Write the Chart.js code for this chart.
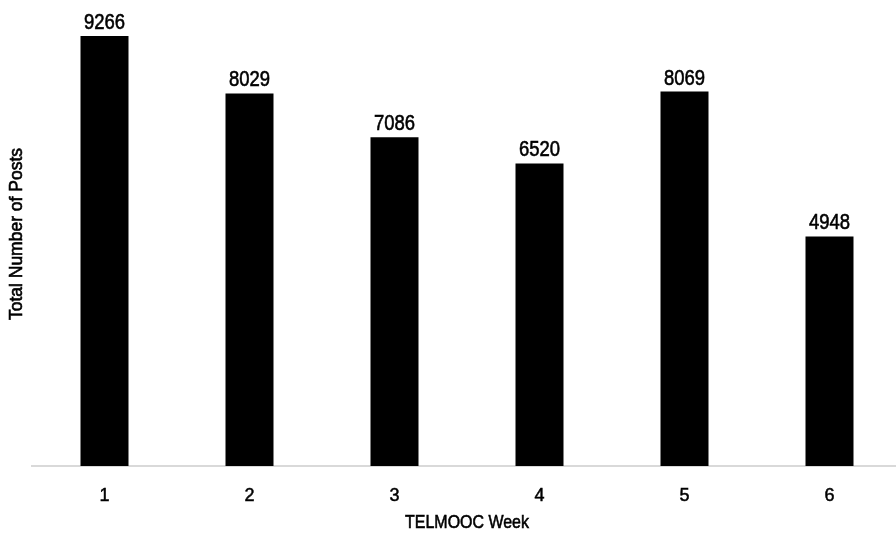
<!DOCTYPE html>
<html>
<head>
<meta charset="utf-8">
<script src="https://cdn.jsdelivr.net/npm/chart.js@4"></script>
<style>
  html, body { margin: 0; padding: 0; background: #fff; overflow: hidden; }
  #wrap { width: 902px; height: 533px; }
</style>
</head>
<body>
<div id="wrap"><canvas id="barChart"></canvas></div>
<script>
var weeks = ['1', '2', '3', '4', '5', '6'];
var posts = [9266, 8029, 7086, 6520, 8069, 4948];
var xTitle = 'TELMOOC Week';
var yTitle = 'Total Number of Posts';

var FONT = "'Liberation Sans', Arial, sans-serif";
var NARROW = 0.84;

// squeezed text, to look like a narrow face
function narrowText(ctx, text, x, y, size, angle, squeeze) {
  ctx.save();
  ctx.translate(x, y);
  if (angle) ctx.rotate(angle);
  ctx.scale(squeeze || NARROW, 1);
  ctx.font = size + 'px ' + FONT;
  ctx.lineWidth = 0.6;
  ctx.strokeStyle = '#000';
  ctx.fillText(text, 0, 0);
  ctx.strokeText(text, 0, 0);
  ctx.restore();
}

// values above bars + both axis titles
var textLayer = {
  id: 'textLayer',
  afterDatasetsDraw: function(chart) {
    var ctx = chart.ctx;
    var area = chart.chartArea;
    var meta = chart.getDatasetMeta(0);
    ctx.save();
    ctx.fillStyle = '#000';
    ctx.textAlign = 'center';
    ctx.textBaseline = 'alphabetic';
    meta.data.forEach(function(bar, i) {
      narrowText(ctx, String(posts[i]), bar.x, bar.y - 7, 22);
    });
    ctx.textBaseline = 'middle';
    narrowText(ctx, xTitle, (area.left + area.right) / 2, 523, 19);
    narrowText(ctx, yTitle, 17, (area.top + area.bottom) / 2, 17.5, -Math.PI / 2, 1);
    ctx.restore();
  }
};

var ctx = document.getElementById('barChart').getContext('2d');
var myChart = new Chart(ctx, {
  type: 'bar',
  data: {
    labels: weeks,
    datasets: [{
      data: posts,
      backgroundColor: '#000',
      barPercentage: 0.331,
      categoryPercentage: 1
    }]
  },
  options: {
    responsive: true,
    maintainAspectRatio: false,
    animation: false,
    layout: { padding: { top: 2, right: 0, bottom: 0, left: 32 } },
    plugins: {
      legend: { display: false },
      tooltip: { enabled: false }
    },
    scales: {
      x: {
        grid: { display: false, drawTicks: false },
        border: { display: true, color: '#d9d9d9', width: 2 },
        ticks: {
          color: '#000',
          textStrokeColor: '#000',
          textStrokeWidth: 0.5,
          padding: 19,
          font: { family: FONT, size: 18 }
        },
        afterFit: function(scale) { scale.height = 67; }
      },
      y: {
        display: false,
        min: 0,
        max: 10000
      }
    }
  },
  plugins: [textLayer]
});
</script>
</body>
</html>
